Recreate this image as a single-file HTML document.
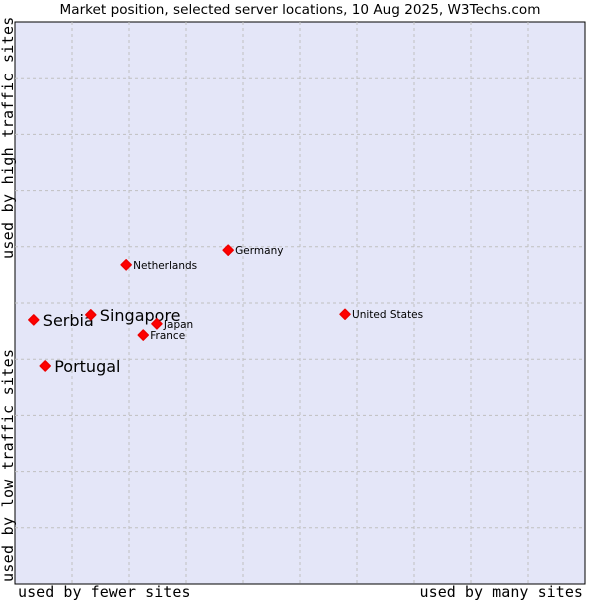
<!DOCTYPE html>
<html><head><meta charset="utf-8"><style>
body{margin:0;background:#fff;width:600px;height:600px;overflow:hidden}
svg text{font-family:"DejaVu Sans","Liberation Sans",sans-serif}
.mono{font-family:"DejaVu Sans Mono","Liberation Mono",monospace}
</style></head><body>
<svg id="c" width="600" height="600">
<text x="300" y="14" text-anchor="middle" font-size="13.6" fill="#000">Market position, selected server locations, 10 Aug 2025, W3Techs.com</text>
<rect x="15" y="22" width="570" height="562" fill="#e4e6f8" stroke="#000" stroke-width="1"/>
<g id="grid"></g>
<g id="pts"></g>
<text class="mono" x="18" y="597" font-size="15" letter-spacing="0.05">used by fewer sites</text>
<text class="mono" x="583" y="597" font-size="15" letter-spacing="0.05" text-anchor="end">used by many sites</text>
<text class="mono" transform="translate(13,582) rotate(-90)" font-size="15" letter-spacing="0.3">used by low traffic sites</text>
<text class="mono" transform="translate(13,259) rotate(-90)" font-size="15" letter-spacing="0.3">used by high traffic sites</text>
</svg>
<script>
const countries=["Serbia","Singapore","Portugal","Netherlands","Germany","United States","Japan","France"];
const xValues=[0.33,1.33,0.53,1.95,3.74,5.79,2.49,2.25];
const yValues=[4.70,4.79,3.88,5.68,5.94,4.80,4.63,4.43];
const highlighted=[true,true,true,false,false,false,false,false];
const gridTicks=[1,2,3,4,5,6,7,8,9];
const NS="http://www.w3.org/2000/svg";
const X0=15,X1=585,Y0=584,Y1=22;
const sx=v=>X0+v/10*(X1-X0), sy=v=>Y0-v/10*(Y0-Y1);
const grid=document.getElementById('grid'), pts=document.getElementById('pts');
gridTicks.forEach(t=>{
  const v=document.createElementNS(NS,'line');
  v.setAttribute('x1',sx(t));v.setAttribute('x2',sx(t));v.setAttribute('y1',Y1);v.setAttribute('y2',Y0);
  v.setAttribute('stroke','#c0c0c0');v.setAttribute('stroke-dasharray','3,3');
  
  
  grid.appendChild(v);
  const h=document.createElementNS(NS,'line');
  h.setAttribute('y1',sy(t));h.setAttribute('y2',sy(t));h.setAttribute('x1',X0);h.setAttribute('x2',X1);
  h.setAttribute('stroke','#c0c0c0');h.setAttribute('stroke-dasharray','3,3');
  
  
  grid.appendChild(h);
});
countries.forEach((c,i)=>{
  const x=sx(xValues[i]), y=sy(yValues[i]);
  const m=document.createElementNS(NS,'polygon');
  m.setAttribute('points',`${x},${y-5} ${x+5},${y} ${x},${y+5} ${x-5},${y}`);
  m.setAttribute('fill','#f00');m.setAttribute('stroke','#e00');m.setAttribute('stroke-width','1.5');m.setAttribute('stroke-linejoin','round');
  
  
  pts.appendChild(m);
  const t=document.createElementNS(NS,'text');
  const big=highlighted[i];
  t.setAttribute('x',x+(big?9:7));t.setAttribute('y',y+(big?6:4));
  t.setAttribute('font-size',big?'16':'10.5');
  t.textContent=c;
  
  
  pts.appendChild(t);
});
</script>
</body></html>
